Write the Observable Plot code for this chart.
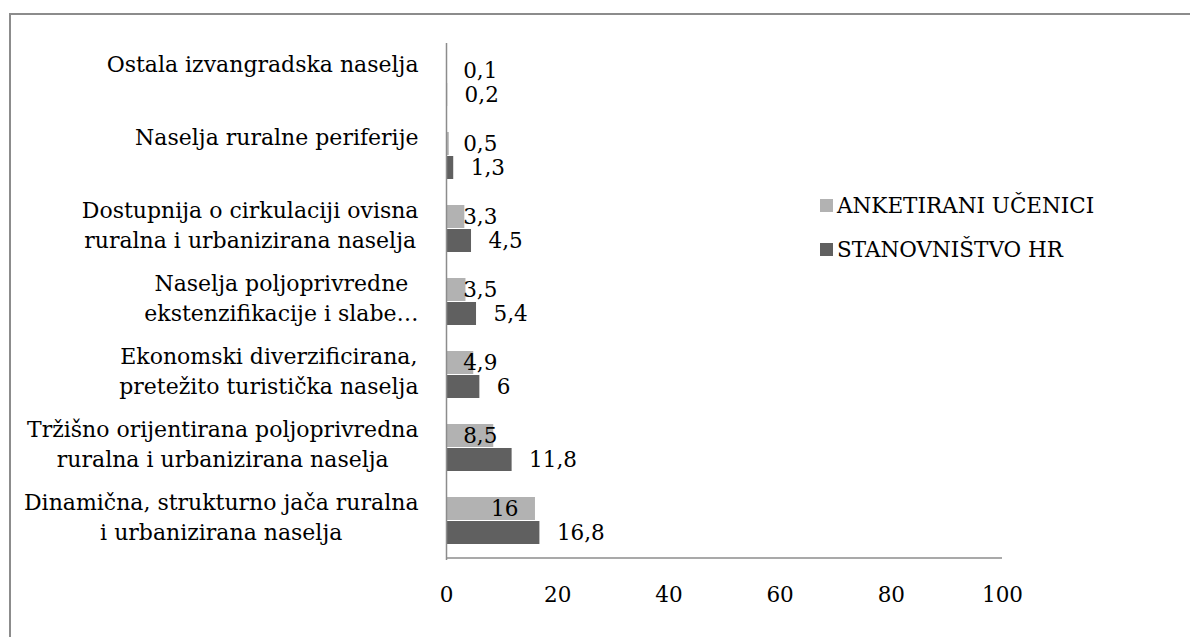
<!DOCTYPE html>
<html>
<head>
<meta charset="utf-8">
<script src="https://cdn.jsdelivr.net/npm/d3@7"></script>
<script src="https://cdn.jsdelivr.net/npm/@observablehq/plot@0.6"></script>
<style>
  html, body { margin: 0; padding: 0; background: #fff; overflow: hidden; }
  #wrap { position: relative; width: 1190px; height: 637px; }
  #frame { position: absolute; left: 9px; top: 13px; width: 1300px; height: 700px;
           border-top: 2px solid #8c8c8c; border-left: 2px solid #8c8c8c; box-sizing: border-box; }
  #chart { position: absolute; left: 0; top: 0; }
  .legend { position: absolute; left: 820px; top: 0; font-family: "DejaVu Serif", serif; font-size: 21.5px; color: #000; }
  .legend .row { position: absolute; left: 0; white-space: nowrap; display: flex; align-items: center; height: 26px; }
  .legend .sw { display: inline-block; width: 13px; height: 13px; margin-right: 4px; }
</style>
</head>
<body>
<div id="wrap">
  <div id="frame"></div>
  <div id="chart"></div>
  <div class="legend" id="legend"></div>
</div>
<script>
const categories = [
  "Ostala izvangradska naselja",
  "Naselja ruralne periferije",
  "Dostupnija o cirkulaciji ovisna\nruralna i urbanizirana naselja",
  "Naselja poljoprivredne\nekstenzifikacije i slabe…",
  "Ekonomski diverzificirana,\npretežito turistička naselja",
  "Tržišno orijentirana poljoprivredna\nruralna i urbanizirana naselja",
  "Dinamična, strukturno jača ruralna\ni urbanizirana naselja"
];
const seriesNames = ["ANKETIRANI UČENICI", "STANOVNIŠTVO HR"];
const ucenici = [0.1, 0.5, 3.3, 3.5, 4.9, 8.5, 16];
const stanovnistvo = [0.2, 1.3, 4.5, 5.4, 6, 11.8, 16.8];
const xTicks = [0, 20, 40, 60, 80, 100];
const colors = ["#b2b2b2", "#606060"];

const FONT = "DejaVu Serif, serif";
const FS = 21.5;
const FS_CAT = 22;
const W = 1190, H = 637, mL = 446, mR = 188, mT = 43, mB = 77;
const bandHalf = (H - mT - mB) / categories.length / 2;

const rowsA = categories.map((c, i) => ({cat: c, value: ucenici[i]}));
const rowsB = categories.map((c, i) => ({cat: c, value: stanovnistvo[i]}));
const fmt = v => String(v).replace(".", ",");

const chart = Plot.plot({
  width: W, height: H,
  marginLeft: mL, marginRight: mR, marginTop: mT, marginBottom: mB,
  style: {fontFamily: FONT, fontSize: FS + "px", color: "#000", background: "transparent", overflow: "visible"},
  x: {domain: [0, 100], ticks: xTicks, tickSize: 0, tickPadding: 26, label: null, tickFormat: d => String(d)},
  y: {domain: categories, axis: null, padding: 0},
  marks: [
    Plot.barX(rowsA, {x: "value", y: "cat", fill: colors[0], insetTop: 13, insetBottom: 37}),
    Plot.barX(rowsB, {x: "value", y: "cat", fill: colors[1], insetTop: 37, insetBottom: 13}),
    Plot.ruleX([0], {stroke: "#8c8c8c", strokeWidth: 1.5}),
    Plot.ruleY([categories[categories.length - 1]], {y: d => d, x1: 0, x2: 100, dy: bandHalf, stroke: "#8c8c8c", strokeWidth: 1.5}),
    Plot.text(rowsA, {x: d => Math.max(d.value, 12.2), y: "cat", text: d => fmt(d.value), textAnchor: "end", dx: -17, dy: -12, fill: "#000", fontSize: FS}),
    Plot.text(rowsB, {x: "value", y: "cat", text: d => fmt(d.value), textAnchor: "start", dx: 17, dy: 12, fill: "#000", fontSize: FS}),
    Plot.text(categories, {y: d => d, text: d => d, frameAnchor: "left", textAnchor: "end", dx: -28, dy: -32, lineAnchor: "top", lineHeight: 30 / FS_CAT, fill: "#000", fontSize: FS_CAT})
  ]
});
document.getElementById("chart").appendChild(chart);

// center the lines of each category label within its right-aligned block
const flat = new Set(categories.map(c => c.replace(/\n/g, "")));
chart.querySelectorAll("text").forEach(t => {
  if (!flat.has(t.textContent.replace(/\n/g, ""))) return;
  const bb = t.getBBox();
  const cx = bb.x + bb.width / 2;
  t.setAttribute("text-anchor", "middle");
  const spans = t.querySelectorAll("tspan");
  if (spans.length) spans.forEach(s => { s.setAttribute("x", cx); s.setAttribute("text-anchor", "middle"); });
  else t.setAttribute("x", cx);
});

// legend
const legend = document.getElementById("legend");
seriesNames.forEach((name, i) => {
  const row = document.createElement("div");
  row.className = "row";
  row.style.top = (192 + i * 44) + "px";
  row.innerHTML = `<span class="sw" style="background:${colors[i]}"></span><span>${name}</span>`;
  legend.appendChild(row);
});
</script>
</body>
</html>
